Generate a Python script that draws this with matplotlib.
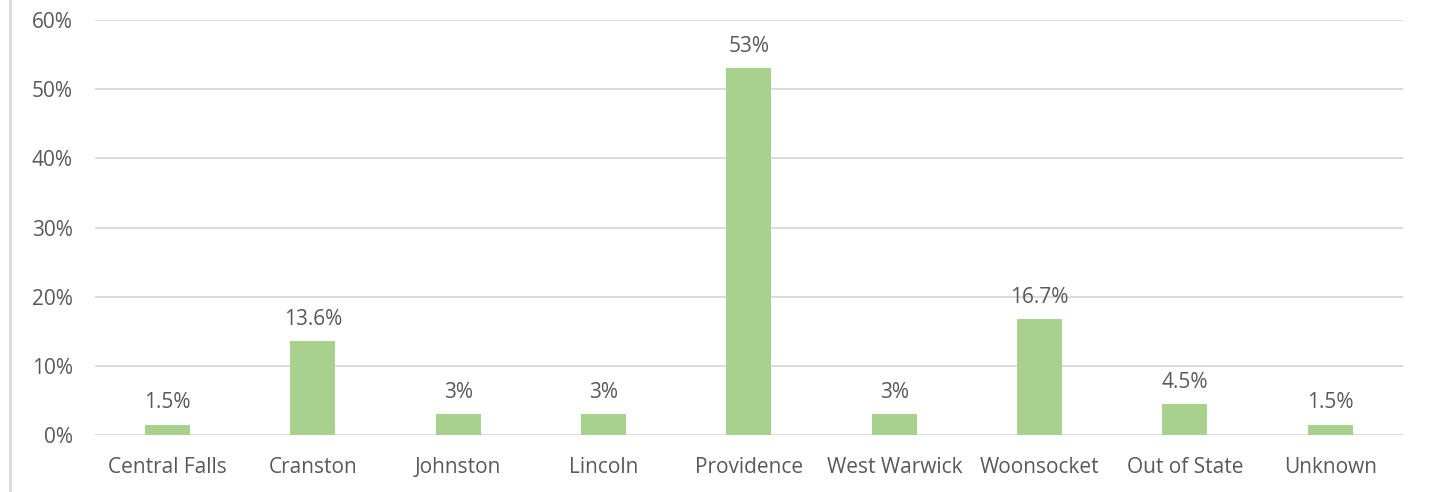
import matplotlib.pyplot as plt
from matplotlib.ticker import FuncFormatter
import numpy as np

# city share data
cities = ["Central Falls", "Cranston", "Johnston", "Lincoln", "Providence",
          "West Warwick", "Woonsocket", "Out of State", "Unknown"]
shares = [1.5, 13.6, 3, 3, 53, 3, 16.7, 4.5, 1.5]
labels = ["1.5%", "13.6%", "3%", "3%", "53%", "3%", "16.7%", "4.5%", "1.5%"]

plt.rcParams['font.family'] = ['Open Sans', 'DejaVu Sans']
txt = '#595959'

fig = plt.figure(figsize=(14.3, 4.92), dpi=100)
ax = fig.add_axes([0.0664, 0.1159, 0.9147, 0.8434])

x = np.arange(len(cities))
bars = ax.bar(x, shares, width=0.31, color='#A9D18E', zorder=3)
for b, lab in zip(bars, labels):
    ax.annotate(lab, (b.get_x() + b.get_width() / 2, b.get_height()),
                xytext=(0, 8), textcoords='offset points',
                ha='center', va='bottom', fontsize=15, color=txt)

ax.set_xlim(-0.5, len(cities) - 0.5)
ax.set_ylim(0, 60)
ax.set_yticks(np.arange(0, 61, 10))
ax.yaxis.set_major_formatter(FuncFormatter(lambda v, p: f"{v:.0f}%"))
ax.set_xticks(x)
ax.set_xticklabels(cities)
ax.grid(axis='y', color='#D9D9D9', linewidth=1.3, zorder=0)
for s in ax.spines.values():
    s.set_visible(False)
ax.tick_params(length=0, labelsize=15, colors=txt)
ax.tick_params(axis='x', pad=16)
ax.tick_params(axis='y', pad=16)

# left frame line
fig.add_artist(plt.Line2D([0.0073, 0.0073], [0, 1], color='#D9D9D9', linewidth=2))

plt.savefig('out.png', dpi=100)
